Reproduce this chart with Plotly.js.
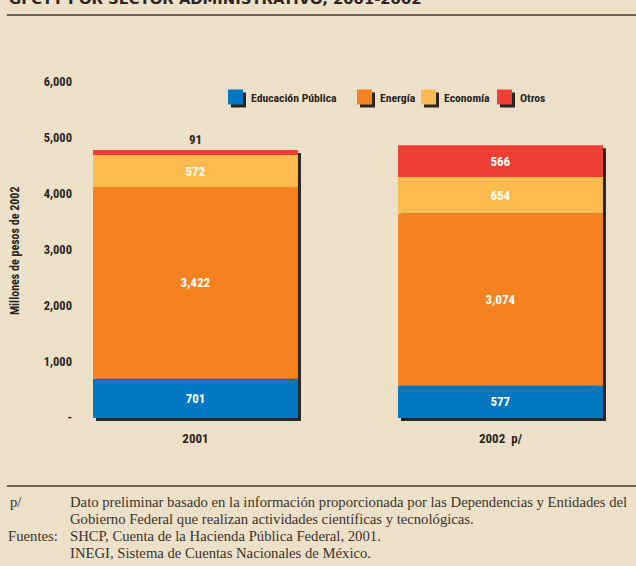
<!DOCTYPE html>
<html>
<head>
<meta charset="utf-8">
<script src="https://cdn.plot.ly/plotly-3.0.1.min.js"></script>
<style>
html,body{margin:0;padding:0;background:#EDE0C8;}
#chart{width:636px;height:566px;}
</style>
</head>
<body>
<div id="chart"></div>
<script>
// ---- data ----
const years = ["2001", "2002  p/"];
const series = ["Educación Pública", "Energía", "Economía", "Otros"];
const educacion = [701, 577];
const energia = [3422, 3074];
const economia = [572, 654];
const otros = [91, 566];
const yTickVals = [0, 1000, 2000, 3000, 4000, 5000, 6000];
const yTickText = ["-", "1,000", "2,000", "3,000", "4,000", "5,000", "6,000"];

// ---- styling ----
const colors = ["#0077C1", "#F5821F", "#FDBB4F", "#EF3E33"];
const shadowColor = "#2B2622";
const W = 636, H = 566;
const M = {l: 80, r: 16, t: 60, b: 141, autoexpand: false};
const plotW = W - M.l - M.r, plotH = H - M.t - M.b;
const condensed = "'Roboto Condensed', 'Roboto', sans-serif";
const serif = "'Liberation Serif', 'DejaVu Serif', serif";
const px = x => (x - M.l) / plotW;          // pixel -> paper x
const py = y => (H - M.b - y) / plotH;      // pixel -> paper y
const cFont = (size, color) => ({family: condensed, size: size, color: color, weight: 'bold'});

const allSeries = [educacion, energia, economia, otros];
const fmt = v => v.toLocaleString('en-US');
const barWidth = 0.672;
const xs = years.map((_, i) => i);

// cumulative bases
const bases = [];
let run = years.map(() => 0);
allSeries.forEach(s => { bases.push(run.slice()); run = run.map((r, i) => r + s[i]); });
const totals = run;

const traces = [];
// drop shadow behind each stacked column
traces.push({
  type: 'bar', x: xs, y: totals, base: years.map(() => -54),
  width: years.map(() => barWidth), offset: years.map(() => -barWidth / 2 + 0.0098),
  marker: {color: shadowColor, line: {width: 0}},
  showlegend: false, hoverinfo: 'skip'
});
allSeries.forEach((s, k) => {
  traces.push({
    type: 'bar', name: series[k], x: xs, y: s, base: bases[k],
    width: years.map(() => barWidth),
    marker: {color: colors[k], line: {width: 0}},
    text: s.map(fmt),
    textposition: s.map(v => v < 200 ? 'outside' : 'inside'),
    insidetextanchor: 'middle',
    textangle: 0,
    constraintext: 'none',
    cliponaxis: false,
    insidetextfont: cFont(13, '#FFFFFF'),
    outsidetextfont: cFont(13, '#2B2622'),
    showlegend: false,
    hoverinfo: 'skip'
  });
});

const noteFont = {family: serif, size: 14.7, color: '#3A332C'};
const annotations = [
  {text: "GFCYT POR SECTOR ADMINISTRATIVO, 2001-2002", xref: 'paper', yref: 'paper',
   x: px(7), y: py(9), xanchor: 'left', yanchor: 'bottom', showarrow: false,
   font: {family: "'DejaVu Sans', sans-serif", size: 14.8, color: '#2B2622', weight: 'bold'}},
  {text: "p/", xref: 'paper', yref: 'paper', x: px(8), y: py(502), xanchor: 'left', yanchor: 'middle',
   showarrow: false, font: noteFont},
  {text: "Dato preliminar basado en la información proporcionada por las Dependencias y Entidades del",
   xref: 'paper', yref: 'paper', x: px(68), y: py(502), xanchor: 'left', yanchor: 'middle',
   showarrow: false, font: noteFont},
  {text: "Gobierno Federal que realizan actividades científicas y tecnológicas.",
   xref: 'paper', yref: 'paper', x: px(68), y: py(519), xanchor: 'left', yanchor: 'middle',
   showarrow: false, font: noteFont},
  {text: "Fuentes:", xref: 'paper', yref: 'paper', x: px(6), y: py(536), xanchor: 'left', yanchor: 'middle',
   showarrow: false, font: noteFont},
  {text: "SHCP, Cuenta de la Hacienda Pública Federal, 2001.",
   xref: 'paper', yref: 'paper', x: px(68), y: py(536), xanchor: 'left', yanchor: 'middle',
   showarrow: false, font: noteFont},
  {text: "INEGI, Sistema de Cuentas Nacionales de México.",
   xref: 'paper', yref: 'paper', x: px(68), y: py(553), xanchor: 'left', yanchor: 'middle',
   showarrow: false, font: noteFont},
  {text: "Millones de pesos de 2002", xref: 'paper', yref: 'paper', x: px(15), y: py(251),
   xanchor: 'center', yanchor: 'middle', textangle: -90, showarrow: false,
   font: cFont(12, '#2B2622')}
];

const shapes = [
  {type: 'line', xref: 'paper', yref: 'paper', x0: px(7), x1: px(636), y0: py(15), y1: py(15),
   line: {color: '#6E6458', width: 2}},
  {type: 'line', xref: 'paper', yref: 'paper', x0: px(7), x1: px(636), y0: py(486), y1: py(486),
   line: {color: '#6E6458', width: 2}}
];

// custom legend: swatch with drop shadow, then label
const legendLeft = [228, 357, 421, 497];
const legendY = 97, sw = 15;
series.forEach((name, k) => {
  const x0 = legendLeft[k];
  shapes.push({type: 'rect', xref: 'paper', yref: 'paper',
    x0: px(x0 + 3), x1: px(x0 + sw + 3), y0: py(legendY - sw / 2 + 3), y1: py(legendY + sw / 2 + 3),
    fillcolor: shadowColor, line: {width: 0}});
  shapes.push({type: 'rect', xref: 'paper', yref: 'paper',
    x0: px(x0), x1: px(x0 + sw), y0: py(legendY - sw / 2), y1: py(legendY + sw / 2),
    fillcolor: colors[k], line: {width: 0}});
  annotations.push({text: name, xref: 'paper', yref: 'paper', x: px(x0 + sw + 6), y: py(legendY + 1),
    xanchor: 'left', yanchor: 'middle', showarrow: false, font: cFont(11.7, '#2B2622')});
});

const layout = {
  width: W, height: H,
  margin: M,
  paper_bgcolor: '#EDE0C8', plot_bgcolor: '#EDE0C8',
  barmode: 'overlay',
  showlegend: false,
  xaxis: {range: [-0.3787, 1.3918], tickvals: xs, ticktext: years, showgrid: false,
          zeroline: false, showline: false, ticks: '', fixedrange: true, ticklabelstandoff: 4,
          tickfont: cFont(13, '#2B2622')},
  yaxis: {range: [-125, 6393], tickvals: yTickVals, ticktext: yTickText, showgrid: false,
          zeroline: false, showline: false, ticks: '', ticklabelstandoff: 7,
          tickfont: cFont(12.5, '#2B2622')},
  annotations: annotations,
  shapes: shapes
};

Plotly.newPlot('chart', traces, layout, {displayModeBar: false, staticPlot: true});
</script>
</body>
</html>
